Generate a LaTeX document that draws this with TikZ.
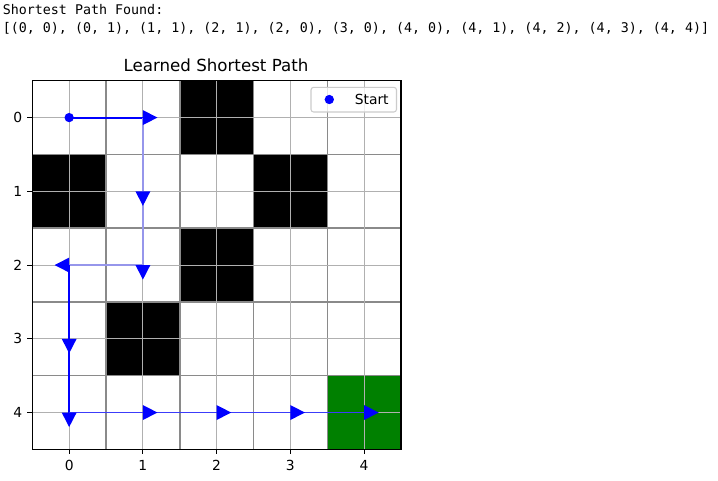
\documentclass[tikz,border=0pt]{standalone}
\usepackage{fontspec}
\setmainfont{DejaVu Sans}
\newfontfamily\monofont{DejaVu Sans Mono}
\definecolor{pathblue}{RGB}{0,0,255}
\definecolor{pathlight}{RGB}{150,150,235}
\definecolor{pathmid}{RGB}{60,60,250}
\definecolor{goalgreen}{RGB}{0,128,0}
\definecolor{minorgrid}{RGB}{138,138,138}
\definecolor{majorgrid}{RGB}{176,176,176}
\definecolor{legendedge}{RGB}{204,204,204}
\tikzset{
  wall/.style={fill=black},
  goal/.style={fill=goalgreen},
  minorline/.style={draw=minorgrid,line width=1.1pt},
  majorline/.style={draw=majorgrid,line width=0.8pt},
  spine/.style={draw=black,line width=0.8pt},
  ticklab/.style={font=\fontsize{10.4}{12}\selectfont,inner sep=0pt},
  headR/.style={fill=pathblue},
  seg/.style={line width=1.2pt},
}
\newcommand\tipright[1]{\fill[headR] (#1) ++(0,5.6pt) -- ++(10.9pt,-5.6pt) -- ++(-10.9pt,-5.6pt) -- cycle;}
\newcommand\tipdown[1]{\fill[headR] (#1) ++(-5.6pt,0) -- ++(5.6pt,-10.9pt) -- ++(5.6pt,10.9pt) -- cycle;}
\newcommand\tipleft[1]{\fill[headR] (#1) ++(0,5.6pt) -- ++(-10.9pt,-5.6pt) -- ++(10.9pt,-5.6pt) -- cycle;}
\begin{document}
\begin{tikzpicture}[x=0.75pt,y=-0.75pt]
\useasboundingbox (0,0) rectangle (718,480);
% header text
\node[anchor=base west,inner sep=0pt,font=\monofont\fontsize{10}{12}\selectfont] (hdr1) at (2.5,14.5) {Shortest Path Found:};
\node[anchor=base west,inner sep=0pt,font=\monofont\fontsize{10}{12}\selectfont] (hdr2) at (2.5,32.5) {[(0, 0), (0, 1), (1, 1), (2, 1), (2, 0), (3, 0), (4, 0), (4, 1), (4, 2), (4, 3), (4, 4)]};
% title
\node[anchor=base,inner sep=0pt,font=\fontsize{12.5}{15}\selectfont] (title) at (216,71.5) {Learned Shortest Path};
\begin{scope}[shift={(69.17,117.57)},x=55.305pt,y=-55.305pt]
  % cells
  \fill[white] (-0.5,-0.5) rectangle (4.5,4.5);
  \foreach \c/\r in {2/0,0/1,3/1,2/2,1/3}
    \fill[wall] (\c-0.5,\r-0.5) rectangle (\c+0.5,\r+0.5);
  \fill[goal] (3.5,3.5) rectangle (4.5,4.5);
  % grid
  \foreach \k in {0.5,1.5,2.5,3.5} {
    \draw[minorline] (\k,-0.5) -- (\k,4.5);
    \draw[minorline] (-0.5,\k) -- (4.5,\k);
  }
  \foreach \k in {0,...,4} {
    \draw[majorline] (\k,-0.5) -- (\k,4.5);
    \draw[majorline] (-0.5,\k) -- (4.5,\k);
  }
  % path points
  \coordinate (p0) at (0,0);
  \coordinate (p1) at (1,0);
  \coordinate (p2) at (1,1);
  \coordinate (p3) at (1,2);
  \coordinate (p4) at (0,2);
  \coordinate (p5) at (0,3);
  \coordinate (p6) at (0,4);
  \coordinate (p7) at (1,4);
  \coordinate (p8) at (2,4);
  \coordinate (p9) at (3,4);
  \coordinate (p10) at (4,4);
  \draw[seg,draw=pathblue,line width=1.5pt,yshift=0.4pt] (p0) -- (p1);
  \draw[seg,draw=pathlight] (p1) -- (p2) -- (p3) -- (p4);
  \draw[seg,draw=pathblue] (p4) -- (p5) -- (p6);
  \draw[seg,draw=pathmid] (p6) -- (p7) -- (p8) -- (p9) -- (p10);
  \fill[pathblue] (p0) circle[radius=3.5pt];
  \tipright{p1}
  \tipdown{p2}
  \tipdown{p3}
  \tipleft{p4}
  \tipdown{p5}
  \tipdown{p6}
  \tipright{p7}
  \tipright{p8}
  \tipright{p9}
  \tipright{p10}
  % spines
  \draw[spine] (-0.5,-0.5) rectangle (4.5,4.5);
  % ticks
  \foreach \k in {0,...,4} {
    \draw[black,line width=0.8pt] (\k,4.5) -- ++(0,-3.65pt);
    \draw[black,line width=0.8pt] (-0.5,\k) -- ++(-3.65pt,0);
    \node[ticklab,anchor=base] (xl\k) at ([yshift=-16.1pt]\k,4.5) {\k};
    \node[ticklab,anchor=base east] (yl\k) at ([xshift=-7.3pt,yshift=-3.8pt]-0.5,\k) {\k};
  }
\end{scope}
% legend
\draw[draw=legendedge,fill=white,fill opacity=0.8,line width=0.8pt,rounded corners=2pt] (311,87.3) rectangle (396.5,112);
\fill[pathblue] (329.3,99.5) circle[radius=3.5pt];
\node[ticklab,anchor=base west] (leg) at (354.5,104.3) {Start};
\end{tikzpicture}
\end{document}
